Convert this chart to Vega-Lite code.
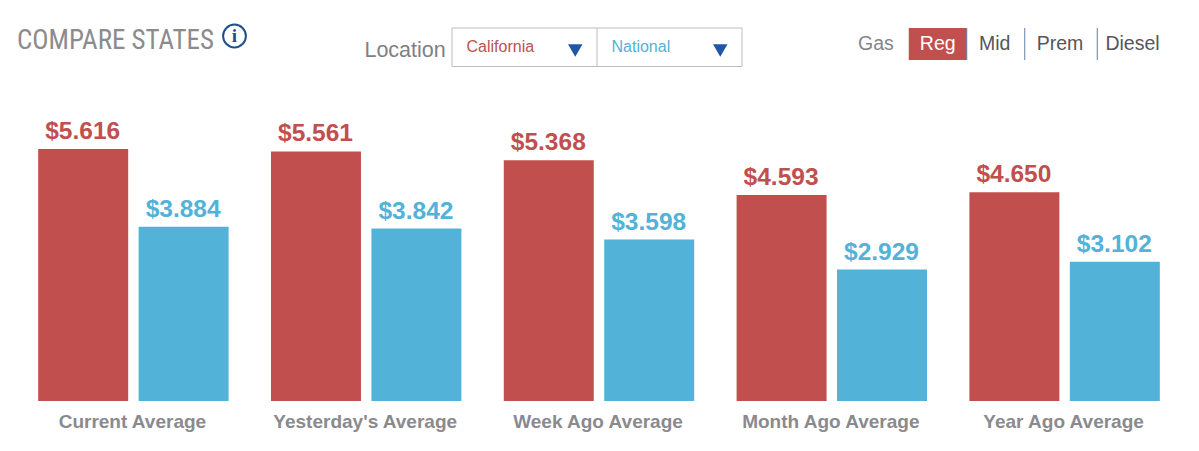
{"$schema":"https://vega.github.io/schema/vega-lite/v6.json","width":1164,"height":401,"autosize":{"type":"none"},"padding":{"left":17,"top":0,"right":18,"bottom":50},"background":"white","view":{"stroke":null},"config":{"font":"Liberation Sans"},
"datasets":{"prices":[
{"period":"Current Average","location":"California","price":5.616},{"period":"Current Average","location":"National","price":3.884},
{"period":"Yesterday's Average","location":"California","price":5.561},{"period":"Yesterday's Average","location":"National","price":3.842},
{"period":"Week Ago Average","location":"California","price":5.368},{"period":"Week Ago Average","location":"National","price":3.598},
{"period":"Month Ago Average","location":"California","price":4.593},{"period":"Month Ago Average","location":"National","price":2.929},
{"period":"Year Ago Average","location":"California","price":4.65},{"period":"Year Ago Average","location":"National","price":3.102}]},
"resolve":{"scale":{"x":"independent","xOffset":"independent"}},
"layer":[
{"data":{"name":"prices"},
"encoding":{
"x":{"field":"period","type":"nominal","sort":null,"scale":{"type":"band","paddingInner":0,"paddingOuter":0},"axis":{"title":null,"domain":false,"ticks":false,"labelAngle":0,"labelFontSize":19,"labelFontWeight":"bold","labelColor":"#8a8a8e","labelPadding":11,"labelOffset":-1,"labelLimit":300}},
"xOffset":{"field":"location","type":"nominal","scale":{"domain":["California","National"],"paddingInner":0.104,"paddingOuter":0.211}},
"y":{"field":"price","type":"quantitative","scale":{"domain":[0,8.937],"nice":false,"zero":true},"axis":null},
"color":{"field":"location","type":"nominal","legend":null,"scale":{"domain":["California","National"],"range":["#c14f4e","#52b2d8"]}}},
"layer":[
{"mark":{"type":"bar","cornerRadius":0}},
{"mark":{"type":"text","fontSize":24.5,"fontWeight":"bold","baseline":"alphabetic","dy":-10,"dx":-0.5},"encoding":{"text":{"field":"price","type":"quantitative","format":"$.3f"}}}
]},
{"data":{"values":[
{"item":"COMPARE STATES","kind":"title"},{"item":"info","label":"i","kind":"icon"},{"item":"Location","kind":"location"},
{"item":"boxLeft","end":"boxRight","kind":"box"},{"item":"boxMid","kind":"boxdiv"},
{"item":"California","kind":"option"},{"item":"National","kind":"option"},{"item":"arrowCA","kind":"arrow"},{"item":"arrowUS","kind":"arrow"},
{"item":"Gas","kind":"gas"},{"item":"regLeft","end":"regRight","kind":"regbg"},{"item":"Reg","kind":"reg"},{"item":"Mid","kind":"fuel"},{"item":"Prem","kind":"fuel"},{"item":"Diesel","kind":"fuel"},{"item":"regRight","kind":"div"},{"item":"div1","kind":"div"},{"item":"div2","kind":"div"}]},
"encoding":{"x":{"field":"item","type":"nominal","axis":null,"scale":{"type":"point","padding":0,"range":[0,1160],"domain":["COMPARE STATES","s1","s2","s3","s4","s5","s6","s7","s8","s9","s10","s11","s12","s13","s14","s15","s16","s17","s18","s19","s20","s21","s22","s23","s24","s25","s26","s27","s28","s29","info","s31","s32","s33","s34","s35","s36","s37","s38","s39","s40","s41","s42","s43","s44","s45","s46","s47","s48","s49","s50","s51","s52","s53","s54","s55","s56","s57","s58","Location","boxLeft","s61","California","s63","s64","s65","s66","s67","s68","s69","s70","s71","s72","s73","s74","s75","s76","arrowCA","s78","s79","boxMid","s81","National","s83","s84","s85","s86","s87","s88","s89","s90","s91","s92","s93","s94","s95","s96","arrowUS","s98","s99","boxRight","s101","s102","s103","s104","s105","s106","s107","s108","s109","s110","s111","s112","s113","s114","s115","Gas","s117","s118","s119","s120","s121","s122","regLeft","s124","s125","s126","Reg","s128","s129","s130","regRight","s132","s133","s134","Mid","s136","s137","s138","div1","s140","s141","s142","s143","Prem","s145","s146","s147","s148","div2","s150","s151","s152","s153","Diesel","s155","s156","s157","s158","s159","s160"]}}},
"layer":[
{"transform":[{"filter":"datum.kind==='box'"}],"mark":{"type":"rect","fill":"white","stroke":"#bdbdc0","strokeWidth":1},"encoding":{"x2":{"field":"end"},"y":{"datum":8.313,"type":"quantitative"},"y2":{"datum":7.455}}},
{"transform":[{"filter":"datum.kind==='boxdiv'"}],"mark":{"type":"rule","color":"#bdbdc0","strokeWidth":1},"encoding":{"y":{"datum":8.313,"type":"quantitative"},"y2":{"datum":7.455}}},
{"transform":[{"filter":"datum.kind==='regbg'"}],"mark":{"type":"rect","fill":"#c14f4e"},"encoding":{"x2":{"field":"end"},"y":{"datum":8.313,"type":"quantitative"},"y2":{"datum":7.6}}},
{"transform":[{"filter":"datum.kind==='div'"}],"mark":{"type":"rule","color":"#5f7fa6","strokeWidth":1},"encoding":{"y":{"datum":8.313,"type":"quantitative"},"y2":{"datum":7.6}}},
{"transform":[{"filter":"datum.kind==='title'"}],"mark":{"type":"text","align":"left","baseline":"middle","font":"Roboto Condensed, Open Sans Condensed, DejaVu Sans Condensed, Liberation Sans","fontSize":27,"color":"#8b8b8e"},"encoding":{"text":{"field":"item"},"y":{"datum":8.023,"type":"quantitative"}}},
{"transform":[{"filter":"datum.kind==='icon'"}],"mark":{"type":"point","shape":"circle","filled":false,"size":520,"stroke":"#1f4e8c","strokeWidth":2,"opacity":1},"encoding":{"y":{"datum":8.135,"type":"quantitative"}}},
{"transform":[{"filter":"datum.kind==='icon'"}],"mark":{"type":"text","align":"center","baseline":"middle","font":"Liberation Serif","fontWeight":"bold","fontSize":19,"color":"#1f4e8c"},"encoding":{"text":{"field":"label"},"y":{"datum":8.135,"type":"quantitative"}}},
{"transform":[{"filter":"datum.kind==='location'"}],"mark":{"type":"text","align":"right","baseline":"middle","fontSize":21.5,"color":"#808085","dx":1},"encoding":{"text":{"field":"item"},"y":{"datum":7.81,"type":"quantitative"}}},
{"transform":[{"filter":"datum.kind==='option'"}],"mark":{"type":"text","align":"left","baseline":"middle","fontSize":16},"encoding":{"text":{"field":"item"},"y":{"datum":7.89,"type":"quantitative"},"color":{"field":"item","type":"nominal","legend":null,"scale":{"domain":["California","National"],"range":["#c0393f","#4fb0d2"]}}}},
{"transform":[{"filter":"datum.kind==='arrow'"}],"mark":{"type":"point","shape":"triangle-down","filled":true,"size":210,"color":"#1f57a4","opacity":1},"encoding":{"y":{"datum":7.81,"type":"quantitative"}}},
{"transform":[{"filter":"datum.kind==='gas'"}],"mark":{"type":"text","align":"left","baseline":"middle","fontSize":19.5,"color":"#85858a"},"encoding":{"text":{"field":"item"},"y":{"datum":7.956,"type":"quantitative"}}},
{"transform":[{"filter":"datum.kind==='reg'"}],"mark":{"type":"text","align":"center","baseline":"middle","fontSize":19.5,"color":"white"},"encoding":{"text":{"field":"item"},"y":{"datum":7.956,"type":"quantitative"}}},
{"transform":[{"filter":"datum.kind==='fuel'"}],"mark":{"type":"text","align":"center","baseline":"middle","fontSize":19.5,"color":"#55555a","dx":-1},"encoding":{"text":{"field":"item"},"y":{"datum":7.956,"type":"quantitative"}}}
]}
]}
